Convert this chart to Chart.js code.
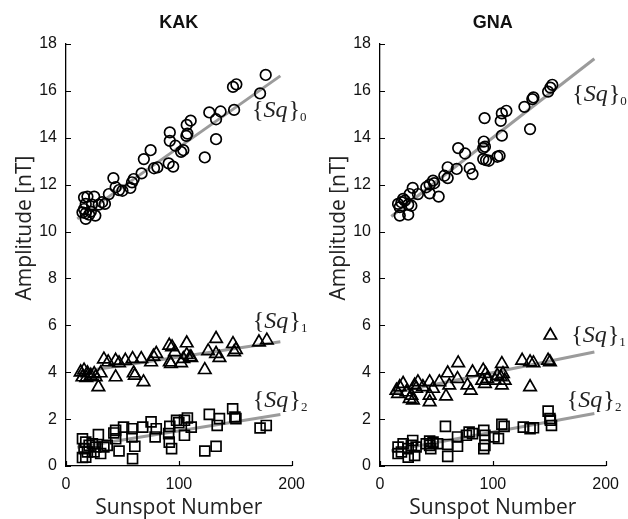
<!DOCTYPE html>
<html>
<head>
<meta charset="utf-8">
<script src="https://cdn.jsdelivr.net/npm/chart.js@4/dist/chart.umd.min.js"></script>
<style>
html,body{margin:0;padding:0;background:#fff;}
#wrap{position:relative;width:628px;height:519px;}
canvas{position:absolute;top:0;}
</style>
</head>
<body>
<div id="wrap">
<canvas id="c1" width="314" height="519" style="left:0"></canvas>
<canvas id="c2" width="314" height="519" style="left:314px"></canvas>
</div>
<script>
// ---------------- data ----------------
const panelTitles = ["KAK", "GNA"];
const xTickValues = [0, 100, 200];
const yTickValues = [0, 2, 4, 6, 8, 10, 12, 14, 16, 18];
const fitX = [10, 190];

// KAK
const kakSq0X = [177,151,148,172,149,137,127,133,133,123,110.5,107,107.6,106.7,92,92,97,104,102,75,69,91,95,78,81,67,42,60,58.5,57,44,47,50,38,32,29,34.5,16,19,25,17.5,23,14.6,17.5,20.5,17.5,26,16,22];
const kakSq0Y = [16.68,16.28,16.17,15.89,15.19,15.12,15.08,14.79,13.94,13.16,14.73,14.55,14.18,14.08,14.23,13.87,13.66,13.47,13.40,13.47,13.09,12.91,12.77,12.70,12.74,12.48,12.28,12.24,12.10,11.86,11.89,11.77,11.74,11.6,11.25,11.15,11.18,11.46,11.49,11.49,11.18,11.15,10.82,10.78,10.72,10.54,10.68,10.96,10.85];
const kakSq1X = [178,171,133,148,150.6,149,133,136,126,123,107,91.5,94,96.5,107,110,104,111,92,93,102,80,77.5,75.4,66.7,59,52.6,44,47,37.4,33.6,44,60,61,68.7,28.7,30.7,13,16,19,22,25,26.3,14.6,18];
const kakSq1Y = [5.36,5.28,5.43,5.21,4.96,4.86,4.79,4.62,4.9,4.1,5.24,5.14,5.07,4.86,4.74,4.64,4.57,4.62,4.43,4.36,4.39,4.79,4.67,4.43,4.57,4.57,4.5,4.5,4.39,4.43,4.55,3.79,3.96,3.86,3.58,3.37,3.96,4.0,4.08,3.96,3.86,3.93,3.79,3.79,3.76];
const kakSq2X = [147.7,149.7,150.6,127,136,134,123,133,177.5,172,107.6,105,98,100,111,105,92,91,93.6,91.5,75.4,80,79,68,58.5,58.5,61,59,51,47,44,42.4,44,28.7,30.7,36.5,33.6,14.6,17.5,20.5,16,19,14.6,23.4,26.3,24.9,17.5];
const kakSq2Y = [2.44,2.09,2.02,2.2,2.02,1.73,0.64,0.84,1.73,1.62,2.05,1.95,1.95,1.85,1.66,1.31,1.69,1.38,0.74,1.02,1.88,1.59,1.24,1.66,1.59,1.24,0.84,0.31,1.66,0.64,1.52,1.41,1.16,1.34,0.53,0.88,0.81,1.16,1.02,0.88,0.74,0.6,0.36,0.95,0.81,0.6,0.38];
const kakFit0 = [10.54, 16.64];
const kakFit1 = [4.0, 5.3];
const kakFit2 = [0.8, 2.2];

// GNA
const gnaSq0X = [152.7,151,149,136,135,128,133,112,108,107,108,92.7,92,93,91.5,91.5,94,96.5,104,106,69.3,75.4,79.5,82,68,60,60,57,47,44,41,48,52,44,29,33.6,26.3,16,19,22,17.5,20.5,27.8,25,17.5,25];
const gnaSq0Y = [16.26,16.14,15.97,15.72,15.65,15.32,14.37,15.15,15.04,14.72,14.09,14.84,13.84,13.62,13.56,13.09,13.05,13.02,13.19,13.23,13.56,13.33,12.7,12.45,12.67,12.74,12.28,12.38,12.17,12.0,11.89,12.06,11.49,11.63,11.86,11.6,11.6,11.18,11.25,11.32,11.04,11.39,11.1,11.15,10.68,10.72];
const gnaSq1X = [151,126,133,136,149,150.6,133,108,109,104,107,110.5,108,102,91.5,93.6,90.6,95,93,82,77.5,80.4,69.3,68.7,60,61.4,58.5,52.6,44,47,44,44,38,33.6,30.7,20.5,17.5,14.6,23.4,27.8,29.2,26.3,32,16];
const gnaSq1Y = [5.57,4.5,4.43,4.39,4.5,4.43,3.37,4.36,3.93,3.86,3.79,3.65,3.44,3.65,4.08,3.93,3.65,3.72,3.51,4.0,3.44,3.22,4.39,3.72,3.96,3.44,2.97,3.58,3.58,3.3,3.01,2.73,3.37,3.58,3.44,3.51,3.37,3.22,3.15,3.01,2.8,2.87,3.3,3.08];
const gnaSq2X = [149,151,152,150.6,127,133,136,108,110,105,92,93,92,93,101,79,76.6,82,68.7,68.7,58,60,60,47,44,45,51,41,44,29,27.8,32,30.7,25,20.5,16,16,19,25];
const gnaSq2Y = [2.34,1.95,1.73,2.02,1.66,1.59,1.63,1.78,1.69,1.17,1.52,1.31,0.74,0.88,1.24,1.45,1.31,1.38,1.24,0.84,1.69,0.92,0.41,1.02,0.88,0.74,0.95,0.95,1.06,1.09,0.88,0.81,0.45,0.38,0.95,0.81,0.53,0.6,0.74];
const gnaFit0 = [10.64, 17.37];
const gnaFit1 = [3.1, 4.86];
const gnaFit2 = [0.65, 2.24];

// label anchors (data coordinates) for the {Sq}_n annotations
const kakLabels = [{x:164.8, y:14.9, sub:"0"}, {x:165.6, y:5.87, sub:"1"}, {x:165.6, y:2.53, sub:"2"}];
const gnaLabels = [{x:170.3, y:15.55, sub:"0"}, {x:169.4, y:5.3, sub:"1"}, {x:165.6, y:2.53, sub:"2"}];

// ---------------- drawing ----------------
const pts = (xs, ys) => xs.map((x, i) => ({x: x, y: ys[i]}));

function drawSq(ctx, x, y, sub) {
  ctx.fillStyle = '#222';
  ctx.textAlign = 'left';
  ctx.textBaseline = 'alphabetic';
  ctx.font = '24px "Liberation Serif"';
  ctx.fillText('{', x, y); x += ctx.measureText('{').width;
  ctx.font = 'italic 24px "Liberation Serif"';
  ctx.fillText('Sq', x, y); x += ctx.measureText('Sq').width + 1;
  ctx.font = '24px "Liberation Serif"';
  ctx.fillText('}', x, y); x += ctx.measureText('}').width;
  ctx.font = '13px "Liberation Serif"';
  ctx.fillText(sub, x, y + 4);
}

const decor = {
  id: 'decor',
  afterDraw(chart, args, opts) {
    const {ctx, chartArea} = chart;
    const xs = chart.scales.x, ys = chart.scales.y;
    ctx.save();
    // inward ticks
    ctx.strokeStyle = '#000';
    ctx.lineWidth = 1.2;
    ctx.beginPath();
    xTickValues.forEach(v => {
      const p = Math.round(xs.getPixelForValue(v)) + 0.5;
      ctx.moveTo(p, chartArea.bottom); ctx.lineTo(p, chartArea.bottom - 5);
    });
    yTickValues.forEach(v => {
      const p = Math.round(ys.getPixelForValue(v)) + 0.5;
      ctx.moveTo(chartArea.left, p); ctx.lineTo(chartArea.left + 5, p);
    });
    ctx.stroke();
    // panel title
    ctx.fillStyle = '#111';
    ctx.font = 'bold 18px "Liberation Sans"';
    ctx.textAlign = 'center';
    ctx.textBaseline = 'alphabetic';
    ctx.fillText(opts.title, (chartArea.left + chartArea.right) / 2, 28);
    // axis titles
    ctx.font = '21px "Open Sans"';
    ctx.fillStyle = '#222';
    ctx.fillText('Sunspot Number', (chartArea.left + chartArea.right) / 2, 514);
    ctx.save();
    ctx.translate(31, 228);
    ctx.rotate(-Math.PI / 2);
    ctx.fillText('Amplitude [nT]', 0, 0);
    ctx.restore();
    // annotations
    opts.labels.forEach(l => drawSq(ctx, xs.getPixelForValue(l.x), ys.getPixelForValue(l.y), l.sub));
    ctx.restore();
  }
};

function makeChart(id, title, s0, s1, s2, f0, f1, f2, labels) {
  const lineDs = (vals) => ({
    type: 'line', data: pts(fitX, vals), showLine: true, pointRadius: 0,
    borderColor: '#9b9b9b', borderWidth: 3, order: 2
  });
  const markDs = (data, style, r) => ({
    type: 'scatter', data: data, pointStyle: style, pointRadius: r,
    borderColor: '#000', backgroundColor: 'rgba(0,0,0,0)', pointBorderWidth: 1.7, borderWidth: 1.7, order: 1
  });
  return new Chart(document.getElementById(id), {
    type: 'scatter',
    data: {
      datasets: [
        lineDs(f0), lineDs(f1), lineDs(f2),
        markDs(s0, 'circle', 5.3), markDs(s1, 'triangle', 7.2), markDs(s2, 'rect', 7)
      ]
    },
    options: {
      responsive: false, animation: false, devicePixelRatio: 1,
      layout: {padding: {top: 44, right: 21, left: 0, bottom: 0}},
      plugins: {legend: {display: false}, tooltip: {enabled: false}, decor: {title: title, labels: labels}},
      scales: {
        x: {
          type: 'linear', min: 0, max: 200,
          afterBuildTicks: s => { s.ticks = xTickValues.map(v => ({value: v})); },
          grid: {drawOnChartArea: false, drawTicks: false},
          border: {color: '#000', width: 1.3},
          ticks: {font: {family: 'Liberation Sans', size: 16}, color: '#111', padding: 9, maxRotation: 0},
          afterFit: s => { s.height = 53; }
        },
        y: {
          type: 'linear', min: 0, max: 18,
          afterBuildTicks: s => { s.ticks = yTickValues.map(v => ({value: v})); },
          grid: {drawOnChartArea: false, drawTicks: false},
          border: {color: '#000', width: 1.3},
          ticks: {font: {family: 'Liberation Sans', size: 16}, color: '#111', padding: 9},
          afterFit: s => { s.width = 66; }
        }
      }
    },
    plugins: [decor]
  });
}

makeChart('c1', panelTitles[0], pts(kakSq0X, kakSq0Y), pts(kakSq1X, kakSq1Y), pts(kakSq2X, kakSq2Y), kakFit0, kakFit1, kakFit2, kakLabels);
makeChart('c2', panelTitles[1], pts(gnaSq0X, gnaSq0Y), pts(gnaSq1X, gnaSq1Y), pts(gnaSq2X, gnaSq2Y), gnaFit0, gnaFit1, gnaFit2, gnaLabels);
</script>
</body>
</html>
